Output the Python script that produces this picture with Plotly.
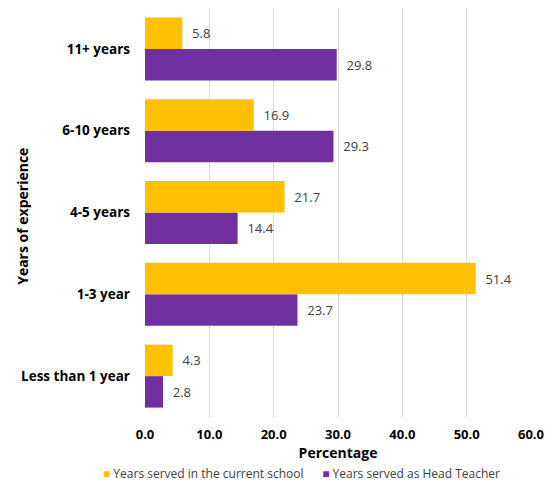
import plotly.graph_objects as go

categories = ["Less than 1 year", "1-3 year", "4-5 years", "6-10 years", "11+ years"]
current_school = [4.3, 51.4, 21.7, 16.9, 5.8]
head_teacher = [2.8, 23.7, 14.4, 29.3, 29.8]
x_ticks = [0, 10, 20, 30, 40, 50, 60]
x_tick_labels = ["0.0", "10.0", "20.0", "30.0", "40.0", "50.0", "60.0"]
series_names = ["Years served in the current school", "Years served as Head Teacher"]

FONT = "Open Sans"
YELLOW = "#FFC000"
PURPLE = "#7030A0"
LABEL_FONT = dict(family=FONT, size=13, color="#404040")

fig = go.Figure()
# Horizontal groups stack upward, so the purple series goes in first to sit below.
fig.add_trace(go.Bar(
    y=categories, x=head_teacher, orientation="h",
    name=series_names[1],
    marker=dict(color=PURPLE, line=dict(width=0)),
    text=head_teacher, texttemplate="  %{x:.1f}", textposition="outside",
    textfont=LABEL_FONT, cliponaxis=False, showlegend=False,
))
fig.add_trace(go.Bar(
    y=categories, x=current_school, orientation="h",
    name=series_names[0],
    marker=dict(color=YELLOW, line=dict(width=0)),
    text=current_school, texttemplate="  %{x:.1f}", textposition="outside",
    textfont=LABEL_FONT, cliponaxis=False, showlegend=False,
))

# Compact legend row under the axis title: small coloured squares and labels.
legend_row = (
    f"<span style='color:{YELLOW}'>■</span> {series_names[0]}"
    f"      <span style='color:{PURPLE}'>■</span> {series_names[1]}"
)

fig.update_layout(
    width=554, height=482,
    margin=dict(l=145, r=23, t=8, b=65, autoexpand=False),
    paper_bgcolor="white", plot_bgcolor="white",
    barmode="group", bargap=0.23, bargroupgap=0,
    font=dict(family=FONT, color="#000000"),
    xaxis=dict(
        range=[0, 60], tickvals=x_ticks, ticktext=x_tick_labels,
        showgrid=True, gridcolor="#D9D9D9", gridwidth=1,
        zeroline=False, showline=False, ticks="",
        tickfont=dict(family=FONT, size=13, color="#000000", weight="bold"),
        ticklabelstandoff=8,
        title=dict(text="<b>Percentage</b>", font=dict(family=FONT, size=14), standoff=6),
        fixedrange=True, automargin=False,
    ),
    yaxis=dict(
        categoryorder="array", categoryarray=categories,
        showgrid=False, zeroline=False, showline=False, ticks="",
        tickfont=dict(family=FONT, size=13.5, color="#000000", weight="bold"),
        ticklabelstandoff=14,
        automargin=False, fixedrange=True,
    ),
    showlegend=False,
    annotations=[
        dict(
            text="<b>Years of experience</b>", textangle=-90,
            xref="paper", yref="paper", x=-0.318, y=0.49,
            xanchor="center", yanchor="middle", showarrow=False,
            font=dict(family=FONT, size=14, color="#000000"),
        ),
        dict(
            text=legend_row,
            xref="paper", yref="paper", x=-0.115, y=-0.139,
            xanchor="left", yanchor="middle", showarrow=False,
            font=dict(family=FONT, size=12, color="#404040"),
        ),
    ],
)

fig.write_html("out.html")
